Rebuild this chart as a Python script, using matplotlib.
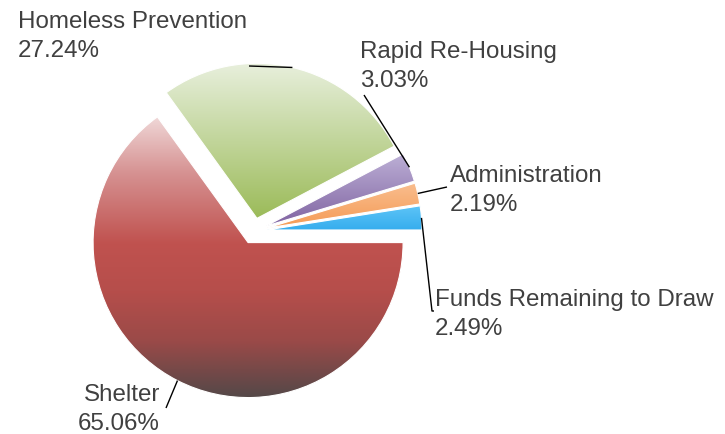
import numpy as np
import matplotlib.pyplot as plt
from matplotlib.colors import LinearSegmentedColormap

# slice data, counter-clockwise from 3 o'clock
categories = ["Funds Remaining to Draw", "Administration", "Rapid Re-Housing",
              "Homeless Prevention", "Shelter"]
shares = [2.49, 2.19, 3.03, 27.24, 65.06]

# gradient stops per slice (top of slice -> bottom)
gradients = [
    ["#5ec5f7", "#36adee"],
    ["#f9bd8e", "#f59b55"],
    ["#bdb0d6", "#8064a2"],
    ["#e9f0de", "#9bbb59"],
    [(0.0, "#f0d8d8"), (0.2, "#d69292"), (0.45, "#c0524f"),
     (0.62, "#b64e4b"), (0.8, "#9a4a48"), (1.0, "#544848")],
]

W, H = 725, 435
CX, CY, R = 254, 232, 155      # pie centre / radius in pixels (y from top)
EXPLODE = 13

# label anchor (x, first baseline), alignment, leader end points, all in pixels
label_pos = [(435, 306, "left"), (450, 182, "left"), (360, 58, "left"),
             (18, 28, "left"), (160, 401, "right")]
leader_ends = [[(432, 312), (434, 312)], [(447, 188)], [(364, 96)],
               [(249, 67)], [(166, 409)]]
LINE_GAP = 29
TEXT = "#404040"
FONT = dict(fontsize=17.4, family="Liberation Sans", color=TEXT)


def py(y):
    return H - y


fig = plt.figure(figsize=(W / 100, H / 100), dpi=100)
ax = fig.add_axes([0, 0, 1, 1])

wedges, _ = ax.pie(shares, startangle=0, counterclock=True, radius=R,
                   center=(CX, py(CY)), explode=[EXPLODE] * len(shares),
                   wedgeprops=dict(edgecolor="white", linewidth=0.8))

for w, stops in zip(wedges, gradients):
    verts = w.get_path().vertices
    x0, y0 = verts.min(axis=0)
    x1, y1 = verts.max(axis=0)
    cmap = LinearSegmentedColormap.from_list("g", stops)
    grad = np.linspace(0, 1, 256).reshape(-1, 1)
    im = ax.imshow(grad, cmap=cmap, extent=(x0, x1, y0, y1), origin="upper",
                   aspect="auto", interpolation="bicubic", zorder=1)
    im.set_clip_path(w)
    w.set_facecolor("none")
    w.set_zorder(2)

for w, name, val, (lx, ly, ha), ends in zip(wedges, categories, shares,
                                            label_pos, leader_ends):
    # leader from the middle of the slice's outer arc
    mid = np.deg2rad((w.theta1 + w.theta2) / 2)
    sx = w.center[0] + w.r * np.cos(mid)
    sy = w.center[1] + w.r * np.sin(mid)
    xs = [sx] + [e[0] for e in ends]
    ys = [sy] + [py(e[1]) for e in ends]
    ax.plot(xs, ys, color="black", lw=1, zorder=3, solid_capstyle="butt")
    ax.text(lx, py(ly), name, ha=ha, va="baseline", **FONT)
    ax.text(lx, py(ly + LINE_GAP), f"{val:.2f}%", ha=ha, va="baseline", **FONT)

ax.set_xlim(0, W)
ax.set_ylim(0, H)
ax.set_aspect("auto")
ax.axis("off")

fig.savefig("out.png", dpi=100)
